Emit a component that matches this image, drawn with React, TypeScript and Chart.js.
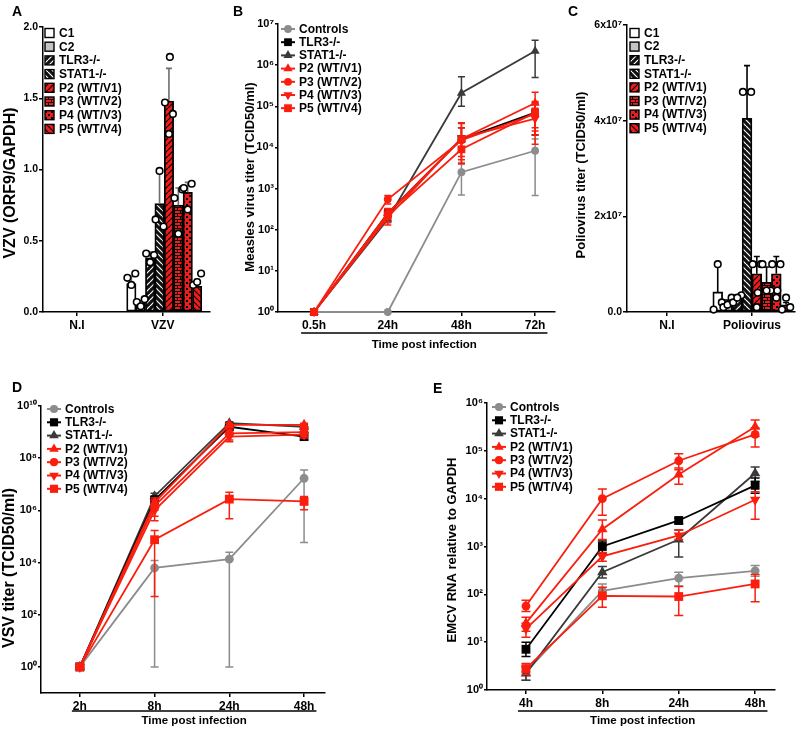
import React, { useEffect, useRef } from 'react';
import { Chart, registerables } from 'chart.js';
Chart.register(...registerables);

// ---------------- DATA ----------------
const barGroups = ['C1', 'C2', 'TLR3-/-', 'STAT1-/-', 'P2 (WT/V1)', 'P3 (WT/V2)', 'P4 (WT/V3)', 'P5 (WT/V4)'];

// Panel A – VZV
const vzvCategories = ['N.I', 'VZV'];
const vzvYTicks = [0, 0.5, 1.0, 1.5, 2.0];
const vzvMeans = [0.20, 0.06, 0.38, 0.76, 1.48, 0.75, 0.84, 0.18];
const vzvSD = [0.05, 0.02, 0.04, 0.24, 0.23, 0.12, 0.07, 0.05];
const vzvPoints = [
  [0.24, 0.27, 0.19],
  [0.07, 0.09, 0.04],
  [0.41, 0.40, 0.35],
  [0.65, 0.60, 0.99],
  [1.47, 1.39, 1.25, 1.79],
  [0.80, 0.86, 0.55],
  [0.87, 0.90, 0.72],
  [0.19, 0.27, 0.21],
];

// Panel C – Poliovirus
const polioCategories = ['N.I', 'Poliovirus'];
const polioYTicks = [0, 2e7, 4e7, 6e7];
const polioMeans = [0.42e7, 0.2e7, 0.28e7, 4.05e7, 0.8e7, 0.62e7, 0.8e7, 0.15e7];
const polioSD = [0.6e7, 0.05e7, 0.05e7, 1.1e7, 0.36e7, 0.32e7, 0.36e7, 0.05e7];
const polioPoints = [
  [0.05e7, 0.2e7, 1.0e7],
  [0.1e7, 0.3e7, 0.15e7],
  [0.2e7, 0.35e7, 0.3e7],
  [4.6e7, 4.6e7],
  [1.0e7, 1.0e7, 0.1e7, 0.4e7],
  [1.0e7, 0.45e7, 0.45e7],
  [1.0e7, 1.0e7, 0.3e7, 0.45e7],
  [0.05e7, 0.1e7, 0.3e7],
];

// Line panels
const seriesLabels = ['Controls', 'TLR3-/-', 'STAT1-/-', 'P2 (WT/V1)', 'P3 (WT/V2)', 'P4 (WT/V3)', 'P5 (WT/V4)'];

// Panel B – Measles
const measlesTimes = ['0.5h', '24h', '48h', '72h'];
const measlesYExps = [0, 1, 2, 3, 4, 5, 6, 7];
const measlesControls = [1, 1, 2500, 8300];
const measlesTLR3 = [1, 250, 16000, 70000];
const measlesSTAT1 = [1, 180, 210000, 2200000];
const measlesP2 = [1, 250, 16000, 120000];
const measlesP3 = [1, 550, 15000, 65000];
const measlesP4 = [1, 200, 17000, 50000];
const measlesP5 = [1, 220, 9000, 70000];
const measlesLow = [
  [null, null, 700, 680],
  [null, 200, 9000, 20000],
  [null, 150, 100000, 500000],
  [null, 180, 5000, 30000],
  [null, 420, 4000, 12000],
  [null, 130, 6000, 20000],
  [null, 150, 4000, 25000],
];
const measlesHigh = [
  [null, null, 4300, 16000],
  [null, 320, 30000, 120000],
  [null, 230, 520000, 4000000],
  [null, 330, 40000, 220000],
  [null, 680, 38000, 130000],
  [null, 280, 30000, 90000],
  [null, 300, 18000, 110000],
];

// Panel D – VSV
const vsvTimes = ['2h', '8h', '24h', '48h'];
const vsvYExps = [0, 2, 4, 6, 8, 10];
const vsvControls = [1, 6200, 13500, 1.7e7];
const vsvTLR3 = [1, 2.5e6, 1.6e9, 6.7e8];
const vsvSTAT1 = [1, 3.5e6, 2.2e9, 1.6e9];
const vsvP2 = [1, 2e6, 1.9e9, 1.9e9];
const vsvP3 = [1, 1.5e6, 9e8, 1e9];
const vsvP4 = [1, 1e6, 6.7e8, 8e8];
const vsvP5 = [1, 7.5e4, 2.7e6, 2.2e6];
const vsvLow = [
  [null, 1, 1, 5.9e4],
  [null, 1.5e6, 1.2e9, 5e8],
  [null, 2e6, 1.8e9, 1.3e9],
  [null, 1e6, 1.5e9, 1.5e9],
  [null, 6e5, 5e8, 7e8],
  [null, 4e5, 4.3e8, 6e8],
  [null, 500, 4.8e5, 1.05e6],
];
const vsvHigh = [
  [null, 1.2e4, 2.5e4, 3.5e7],
  [null, 3.5e6, 2e9, 9e8],
  [null, 4.5e6, 2.5e9, 1.9e9],
  [null, 3e6, 2.2e9, 2.2e9],
  [null, 2.5e6, 1.3e9, 1.3e9],
  [null, 2e6, 9e8, 1e9],
  [null, 1.7e5, 5e6, 3.4e6],
];

// Panel E – EMCV
const emcvTimes = ['4h', '8h', '24h', '48h'];
const emcvYExps = [0, 1, 2, 3, 4, 5, 6];
const emcvControls = [2.4, 118, 218, 310];
const emcvTLR3 = [7.1, 1000, 3500, 19000];
const emcvSTAT1 = [2.2, 290, 1400, 34000];
const emcvP2 = [25, 2300, 32000, 320000];
const emcvP3 = [57, 10000, 62000, 220000];
const emcvP4 = [19, 620, 1700, 9500];
const emcvP5 = [2.8, 93, 90, 165];
const emcvLow = [
  [1.6, 85, 150, 240],
  [5, 730, 3000, 13000],
  [1.6, 220, 600, 23000],
  [17, 1400, 20000, 200000],
  [44, 4500, 40000, 120000],
  [12.6, 490, 1400, 3700],
  [2.1, 54, 36, 70],
];
const emcvHigh = [
  [3.2, 165, 290, 400],
  [10, 1300, 3900, 27000],
  [3, 380, 2200, 46000],
  [33, 3600, 44000, 440000],
  [75, 16000, 87000, 300000],
  [25, 750, 2200, 14000],
  [3.6, 140, 145, 260],
];

// ---------------- STYLE ----------------
const FONT = "'Liberation Sans', Arial, Helvetica, sans-serif";
const RED = '#fa1e0e';
const BAR_RED = '#ee1c1c';
const GREY = '#8c8c8c';
const DARK = '#3a3a3a';

const lineStyles = [
  { color: GREY, shape: 'circle', rot: 0, order: 4 },
  { color: '#000000', shape: 'rect', rot: 0, order: 3 },
  { color: DARK, shape: 'triangle', rot: 0, order: 3 },
  { color: RED, shape: 'triangle', rot: 0, order: 1 },
  { color: RED, shape: 'circle', rot: 0, order: 1 },
  { color: RED, shape: 'triangle', rot: 180, order: 1 },
  { color: RED, shape: 'rect', rot: 0, order: 1 },
];
const shapeScale: Record<string, number> = { circle: 0.85, rect: 1.2, triangle: 1.15 };
const barPatternKinds = ['white', 'grey', 'blackFwd', 'blackBack', 'redFwd', 'redBrick', 'redDots', 'redBack'];
const jitter = [-0.42, 0.42, 0, 0.1];

const SUP: Record<string, string> = { '0': '⁰', '1': '¹', '2': '²', '3': '³', '4': '⁴', '5': '⁵', '6': '⁶', '7': '⁷', '8': '⁸', '9': '⁹', '-': '⁻' };
const sup = (n: number) => String(n).split('').map((c) => SUP[c] ?? c).join('');

type Geo = { cl: number; ct: number; cw: number; ch: number; L: number; T: number; R: number; B: number; xmin: number; xmax: number };

function makePattern(ctx: CanvasRenderingContext2D, kind: string): CanvasPattern | string {
  if (kind === 'white') return '#ffffff';
  if (kind === 'grey') return '#c4c4c4';
  const s = 6;
  const t = document.createElement('canvas');
  t.width = s; t.height = s;
  const g = t.getContext('2d')!;
  const dark = kind.startsWith('black');
  g.fillStyle = dark ? '#111111' : BAR_RED;
  g.fillRect(0, 0, s, s);
  g.strokeStyle = dark ? '#ffffff' : '#000000';
  g.fillStyle = g.strokeStyle;
  g.lineWidth = 1.2;
  if (kind.endsWith('Fwd')) {
    g.beginPath();
    for (let k = -1; k <= 1; k++) { g.moveTo(k * s, s); g.lineTo(k * s + s, 0); }
    g.stroke();
  } else if (kind.endsWith('Back')) {
    g.beginPath();
    for (let k = -1; k <= 1; k++) { g.moveTo(k * s, 0); g.lineTo(k * s + s, s); }
    g.stroke();
  } else if (kind === 'redBrick') {
    g.fillRect(0, 0, s, 1);
    g.fillRect(0, 3, s, 1);
    g.fillRect(0, 0, 1, 3);
    g.fillRect(3, 3, 1, 3);
  } else if (kind === 'redDots') {
    g.fillRect(0, 0, 2, 2);
    g.fillRect(3, 3, 2, 2);
  }
  return ctx.createPattern(t, 'repeat') as CanvasPattern;
}

function drawMarker(ctx: CanvasRenderingContext2D, shape: string, rot: number, x: number, y: number, r: number, color: string) {
  ctx.save();
  ctx.fillStyle = color;
  ctx.beginPath();
  if (shape === 'circle') ctx.arc(x, y, r, 0, Math.PI * 2);
  else if (shape === 'rect') { const s = r * Math.SQRT1_2; ctx.rect(x - s, y - s, 2 * s, 2 * s); }
  else {
    let a = (rot * Math.PI) / 180;
    ctx.moveTo(x + Math.sin(a) * r, y - Math.cos(a) * r);
    a += (2 * Math.PI) / 3;
    ctx.lineTo(x + Math.sin(a) * r, y - Math.cos(a) * r);
    a += (2 * Math.PI) / 3;
    ctx.lineTo(x + Math.sin(a) * r, y - Math.cos(a) * r);
    ctx.closePath();
  }
  ctx.fill();
  ctx.restore();
}

// error bars plugin
const errPlugin = {
  id: 'errbars',
  beforeDatasetDraw(chart: any, args: any) {
    const ds = chart.data.datasets[args.index];
    if (!ds.errLo) return;
    const ctx = chart.ctx as CanvasRenderingContext2D;
    const ys = chart.scales.y;
    ctx.save();
    ctx.strokeStyle = ds.borderColor;
    ctx.lineWidth = ds.errWidth ?? 1.5;
    args.meta.data.forEach((pt: any, j: number) => {
      const lo = ds.errLo[j];
      const hi = ds.errHi[j];
      if (lo == null && hi == null) return;
      const y0 = ys.getPixelForValue(lo ?? ds.data[j].y);
      const y1 = ys.getPixelForValue(hi ?? ds.data[j].y);
      const c = ds.capHalf;
      ctx.beginPath();
      ctx.moveTo(pt.x, y0); ctx.lineTo(pt.x, y1);
      if (lo != null) { ctx.moveTo(pt.x - c, y0); ctx.lineTo(pt.x + c, y0); }
      if (hi != null) { ctx.moveTo(pt.x - c, y1); ctx.lineTo(pt.x + c, y1); }
      ctx.stroke();
    });
    ctx.restore();
  },
  afterDatasetDraw(chart: any, args: any) {
    const ds = chart.data.datasets[args.index];
    if (!ds.errUp) return;
    const ctx = chart.ctx as CanvasRenderingContext2D;
    const ys = chart.scales.y;
    ctx.save();
    ctx.strokeStyle = ds.errColor;
    ctx.lineWidth = 1.6;
    args.meta.data.forEach((el: any, j: number) => {
      const top = ys.getPixelForValue(ds.data[j].y + ds.errUp[j]);
      ctx.beginPath();
      ctx.moveTo(el.x, el.y); ctx.lineTo(el.x, top);
      ctx.moveTo(el.x - 3, top); ctx.lineTo(el.x + 3, top);
      ctx.stroke();
    });
    ctx.restore();
  },
};

type Decor = {
  letter: string; letterX: number; letterY: number;
  yTitle: string; yTitleX: number; yTitleY: number; yTitleSize: number;
  xTitle?: string; underlineY?: number; xTitleY?: number; tickSize?: number;
  legendX: number; legendY: number; legendDy: number;
  legendKind: 'bar' | 'line'; markerR?: number;
};

function decorPlugin(geo: Geo, d: Decor, fills?: (CanvasPattern | string)[]) {
  return {
    id: 'decor',
    afterDraw(chart: any) {
      const ctx = chart.ctx as CanvasRenderingContext2D;
      const X = (x: number) => x - geo.cl;
      const Y = (y: number) => y - geo.ct;
      ctx.save();
      ctx.fillStyle = '#000';
      ctx.textBaseline = 'middle';
      ctx.textAlign = 'left';
      ctx.font = `bold 14px ${FONT}`;
      ctx.fillText(d.letter, X(d.letterX), Y(d.letterY));
      // y title
      ctx.save();
      ctx.translate(X(d.yTitleX), Y(d.yTitleY));
      ctx.rotate(-Math.PI / 2);
      ctx.textAlign = 'center';
      ctx.font = `bold ${d.yTitleSize}px ${FONT}`;
      ctx.fillText(d.yTitle, 0, 0);
      ctx.restore();
      // x underline + title
      if (d.xTitle) {
        const xs = chart.scales.x;
        const n = xs.ticks.length;
        ctx.font = `bold ${d.tickSize}px ${FONT}`;
        const l0 = String(xs.ticks[0].label);
        const l1 = String(xs.ticks[n - 1].label);
        const x0 = xs.getPixelForValue(xs.ticks[0].value) - ctx.measureText(l0).width / 2 - 1;
        const x1 = xs.getPixelForValue(xs.ticks[n - 1].value) + ctx.measureText(l1).width / 2 + 2;
        ctx.strokeStyle = '#000';
        ctx.lineWidth = 1.5;
        ctx.beginPath();
        ctx.moveTo(x0, Y(d.underlineY!)); ctx.lineTo(x1, Y(d.underlineY!));
        ctx.stroke();
        ctx.font = `bold 11.5px ${FONT}`;
        ctx.textAlign = 'center';
        ctx.fillText(d.xTitle, (x0 + x1) / 2, Y(d.xTitleY!));
        ctx.textAlign = 'left';
      }
      // legend
      ctx.font = `bold 12px ${FONT}`;
      if (d.legendKind === 'bar') {
        barGroups.forEach((lab, i) => {
          const y = Y(d.legendY + i * d.legendDy);
          const x = X(d.legendX);
          ctx.fillStyle = fills![i] as any;
          ctx.fillRect(x, y - 4.5, 9, 9);
          ctx.strokeStyle = '#000';
          ctx.lineWidth = 1.4;
          ctx.strokeRect(x, y - 4.5, 9, 9);
          ctx.fillStyle = '#000';
          ctx.fillText(lab, x + 14, y + 0.5);
        });
      } else {
        seriesLabels.forEach((lab, i) => {
          const st = lineStyles[i];
          const y = Y(d.legendY + i * d.legendDy);
          const x = X(d.legendX);
          ctx.strokeStyle = st.color;
          ctx.lineWidth = 2;
          ctx.beginPath();
          ctx.moveTo(x, y); ctx.lineTo(x + 14, y);
          ctx.stroke();
          drawMarker(ctx, st.shape, st.rot, x + 7, y, d.markerR! * shapeScale[st.shape], st.color);
          ctx.fillStyle = '#000';
          ctx.fillText(lab, x + 18, y + 0.5);
        });
      }
      ctx.restore();
    },
  };
}

function axisCommon(tickSize: number, tickLen: number) {
  return {
    grid: { display: true, drawOnChartArea: false, drawTicks: true, tickLength: tickLen, color: '#000', lineWidth: 1.5 },
    border: { display: true, color: '#000', width: 1.5 },
    ticks: { font: { family: FONT, size: tickSize, weight: 'bold' }, color: '#000', autoSkip: false, maxRotation: 0 },
  };
}

function xScale(geo: Geo, labels: string[], tickSize: number) {
  const c = axisCommon(tickSize, 4);
  return {
    type: 'linear', min: geo.xmin, max: geo.xmax, offset: false,
    grid: { ...c.grid, offset: false }, border: c.border,
    afterBuildTicks: (s: any) => { s.ticks = labels.map((_, i) => ({ value: i })); },
    afterFit: (s: any) => { s.height = geo.ct + geo.ch - geo.B; },
    ticks: { ...c.ticks, padding: 2, callback: (v: any) => labels[Math.round(Number(v))] ?? '' },
  };
}

function layoutPadding(geo: Geo) {
  return { left: 0, top: geo.T - geo.ct, right: geo.cl + geo.cw - geo.R, bottom: 0 };
}

type LinePanel = {
  geo: Geo; times: string[]; means: number[][]; lo: (number | null)[][]; hi: (number | null)[][];
  ymin: number; ymax: number; yExps: number[]; r: number; cap: number; tickSize: number; yTickSize: number; decor: Decor;
};

function buildLine(p: LinePanel) {
  return (_ctx: CanvasRenderingContext2D): any => {
    const g = p.geo;
    const datasets = seriesLabels.map((label, i) => {
      const st = lineStyles[i];
      return {
        type: 'line', label,
        data: p.means[i].map((v, j) => ({ x: j, y: v })),
        errLo: p.lo[i], errHi: p.hi[i], capHalf: p.cap, errWidth: 1.5,
        borderColor: st.color, backgroundColor: st.color, borderWidth: 1.8,
        pointStyle: st.shape, pointRotation: st.rot, pointRadius: p.r * shapeScale[st.shape],
        pointBackgroundColor: st.color, pointBorderColor: st.color, pointBorderWidth: 0,
        tension: 0, clip: false, order: st.order,
      };
    });
    const yc = axisCommon(p.yTickSize, 3);
    return {
      type: 'line',
      data: { datasets },
      options: {
        responsive: false, animation: false, devicePixelRatio: 1,
        layout: { padding: layoutPadding(g) },
        plugins: { legend: { display: false }, tooltip: { enabled: false }, title: { display: false } },
        events: [],
        scales: {
          x: xScale(g, p.times, p.tickSize),
          y: {
            type: 'logarithmic', min: p.ymin, max: p.ymax,
            grid: yc.grid, border: yc.border,
            afterBuildTicks: (s: any) => { s.ticks = p.yExps.map((e) => ({ value: Math.pow(10, e) })); },
            afterFit: (s: any) => { s.width = g.L - g.cl; },
            ticks: { ...yc.ticks, padding: 1, callback: (v: any) => '10' + sup(Math.round(Math.log10(Number(v)))) },
          },
        },
      },
      plugins: [errPlugin, decorPlugin(g, p.decor)],
    };
  };
}

type BarPanel = {
  geo: Geo; cats: string[]; means: number[]; sd: number[]; points: number[][];
  ymax: number; yTicks: number[]; yLabel: (v: number) => string; barPx: number; shift: number;
  errColor: string; tickSize: number; yTickSize: number; decor: Decor;
};

function buildBar(p: BarPanel) {
  return (ctx: CanvasRenderingContext2D): any => {
    const g = p.geo;
    const unit = (g.R - g.L) / (g.xmax - g.xmin);
    const slot = p.barPx / unit;
    const barX = barGroups.map((_, i) => 1 + (i - 3.5) * slot + p.shift);
    const fills = barPatternKinds.map((k) => makePattern(ctx, k));
    const pts: { x: number; y: number }[] = [];
    p.points.forEach((arr, i) => arr.forEach((v, k) => pts.push({ x: barX[i] + jitter[k % jitter.length] * slot, y: v })));
    const yc = axisCommon(p.yTickSize, 4);
    return {
      type: 'bar',
      data: {
        datasets: [
          {
            type: 'bar', label: 'mean',
            data: p.means.map((v, i) => ({ x: barX[i], y: v })),
            backgroundColor: fills, borderColor: '#000', borderWidth: 1.8, borderSkipped: false,
            barThickness: p.barPx, errUp: p.sd, errColor: p.errColor, order: 2, clip: false,
          },
          {
            type: 'scatter', label: 'points', data: pts,
            pointRadius: 3.3, pointBackgroundColor: '#fff', pointBorderColor: '#000', pointBorderWidth: 1.6,
            showLine: false, order: 1, clip: false,
          },
        ],
      },
      options: {
        responsive: false, animation: false, devicePixelRatio: 1,
        layout: { padding: layoutPadding(g) },
        plugins: { legend: { display: false }, tooltip: { enabled: false }, title: { display: false } },
        events: [],
        scales: {
          x: xScale(g, p.cats, p.tickSize),
          y: {
            type: 'linear', min: 0, max: p.ymax,
            grid: yc.grid, border: yc.border,
            afterBuildTicks: (s: any) => { s.ticks = p.yTicks.map((v) => ({ value: v })); },
            afterFit: (s: any) => { s.width = g.L - g.cl; },
            ticks: { ...yc.ticks, padding: 1, callback: (v: any) => p.yLabel(Number(v)) },
          },
        },
      },
      plugins: [errPlugin, decorPlugin(g, p.decor, fills)],
    };
  };
}

function ChartCanvas({ geo, build }: { geo: Geo; build: (ctx: CanvasRenderingContext2D) => any }) {
  const ref = useRef<HTMLCanvasElement>(null);
  useEffect(() => {
    const c = ref.current!;
    const chart = new Chart(c, build(c.getContext('2d')!));
    return () => chart.destroy();
  }, []);
  return (
    <canvas
      ref={ref}
      width={geo.cw}
      height={geo.ch}
      style={{ position: 'absolute', left: geo.cl, top: geo.ct, width: geo.cw, height: geo.ch }}
    />
  );
}

// ---------------- PANELS ----------------
const geoA: Geo = { cl: 0, ct: 0, cw: 250, ch: 360, L: 43, T: 27, R: 210, B: 312, xmin: -0.395, xmax: 1.55 };
const geoB: Geo = { cl: 230, ct: 0, cw: 335, ch: 360, L: 278, T: 24, R: 555, B: 312, xmin: -0.49, xmax: 3.27 };
const geoC: Geo = { cl: 560, ct: 0, cw: 240, ch: 360, L: 627, T: 25, R: 795, B: 312, xmin: -0.47, xmax: 1.5 };
const geoD: Geo = { cl: 0, ct: 365, cw: 395, ch: 365, L: 41, T: 406, R: 325, B: 693, xmin: -0.52, xmax: 3.28 };
const geoE: Geo = { cl: 400, ct: 365, cw: 400, ch: 365, L: 487, T: 403, R: 775, B: 690, xmin: -0.51, xmax: 3.26 };

const panelA = buildBar({
  geo: geoA, cats: vzvCategories, means: vzvMeans, sd: vzvSD, points: vzvPoints,
  ymax: 2, yTicks: vzvYTicks, yLabel: (v) => v.toFixed(1), barPx: 9.4, shift: 0.017,
  errColor: '#6e6e6e', tickSize: 12, yTickSize: 10.5,
  decor: {
    letter: 'A', letterX: 12, letterY: 12, yTitle: 'VZV (ORF9/GAPDH)', yTitleX: 11, yTitleY: 183, yTitleSize: 16,
    legendX: 45, legendY: 33, legendDy: 13.7, legendKind: 'bar',
  },
});

const panelC = buildBar({
  geo: geoC, cats: polioCategories, means: polioMeans, sd: polioSD, points: polioPoints,
  ymax: 6e7, yTicks: polioYTicks, yLabel: (v) => (v === 0 ? '0.0' : `${Math.round(v / 1e7)}x10${sup(7)}`),
  barPx: 9.8, shift: 0.0, errColor: '#000', tickSize: 12, yTickSize: 10.5,
  decor: {
    letter: 'C', letterX: 568, letterY: 12, yTitle: 'Poliovirus titer (TCID50/ml)', yTitleX: 581, yTitleY: 175, yTitleSize: 13,
    legendX: 630, legendY: 33, legendDy: 13.6, legendKind: 'bar',
  },
});

const panelB = buildLine({
  geo: geoB, times: measlesTimes,
  means: [measlesControls, measlesTLR3, measlesSTAT1, measlesP2, measlesP3, measlesP4, measlesP5],
  lo: measlesLow, hi: measlesHigh, ymin: 1, ymax: 1e7, yExps: measlesYExps, r: 4.6, cap: 3.5, tickSize: 12, yTickSize: 11,
  decor: {
    letter: 'B', letterX: 233, letterY: 12, yTitle: 'Measles virus titer (TCID50/ml)', yTitleX: 250, yTitleY: 177, yTitleSize: 13,
    xTitle: 'Time post infection', underlineY: 333, xTitleY: 345, tickSize: 12,
    legendX: 281, legendY: 29, legendDy: 13.2, legendKind: 'line', markerR: 4.6,
  },
});

const panelD = buildLine({
  geo: geoD, times: vsvTimes,
  means: [vsvControls, vsvTLR3, vsvSTAT1, vsvP2, vsvP3, vsvP4, vsvP5],
  lo: vsvLow, hi: vsvHigh, ymin: 0.1, ymax: 1e10, yExps: vsvYExps, r: 5.2, cap: 4, tickSize: 12, yTickSize: 11,
  decor: {
    letter: 'D', letterX: 12, letterY: 388, yTitle: 'VSV titer (TCID50/ml)', yTitleX: 10, yTitleY: 568, yTitleSize: 16,
    xTitle: 'Time post infection', underlineY: 711, xTitleY: 721, tickSize: 12,
    legendX: 47, legendY: 409, legendDy: 13.3, legendKind: 'line', markerR: 4.8,
  },
});

const panelE = buildLine({
  geo: geoE, times: emcvTimes,
  means: [emcvControls, emcvTLR3, emcvSTAT1, emcvP2, emcvP3, emcvP4, emcvP5],
  lo: emcvLow, hi: emcvHigh, ymin: 1, ymax: 1e6, yExps: emcvYExps, r: 5.2, cap: 4.5, tickSize: 12, yTickSize: 11,
  decor: {
    letter: 'E', letterX: 433, letterY: 389, yTitle: 'EMCV RNA relative to GAPDH', yTitleX: 452, yTitleY: 550, yTitleSize: 13,
    xTitle: 'Time post infection', underlineY: 711, xTitleY: 721, tickSize: 12,
    legendX: 492, legendY: 407, legendDy: 13.3, legendKind: 'line', markerR: 4.8,
  },
});

export default function App() {
  return (
    <div style={{ position: 'absolute', left: 0, top: 0, width: 800, height: 730, background: '#fff', overflow: 'hidden' }}>
      <ChartCanvas geo={geoA} build={panelA} />
      <ChartCanvas geo={geoB} build={panelB} />
      <ChartCanvas geo={geoC} build={panelC} />
      <ChartCanvas geo={geoD} build={panelD} />
      <ChartCanvas geo={geoE} build={panelE} />
    </div>
  );
}
